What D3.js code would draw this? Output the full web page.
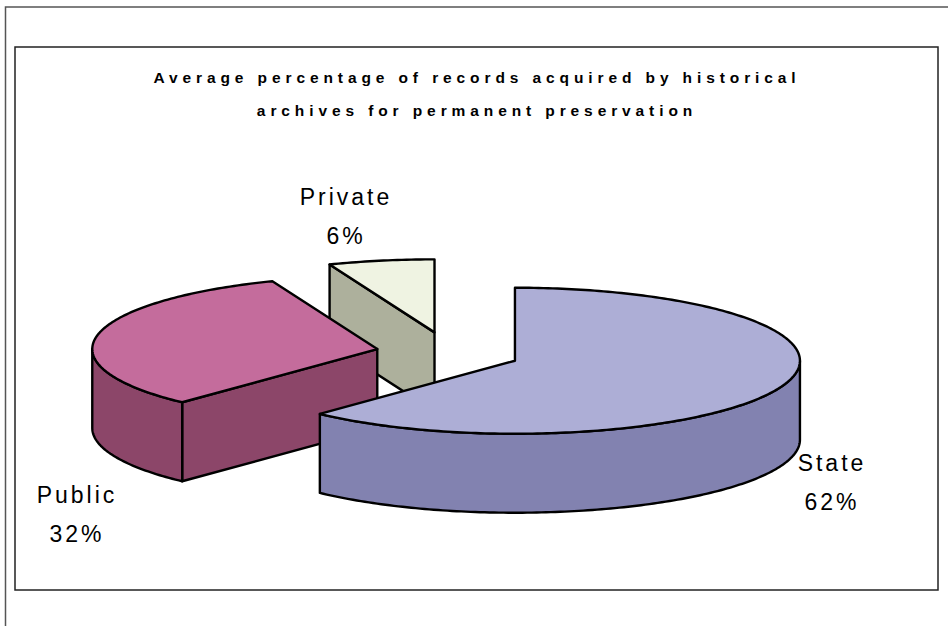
<!DOCTYPE html>
<html>
<head>
<meta charset="utf-8">
<style>
  html, body { margin: 0; padding: 0; background: #fff; }
  svg { display: block; }
  text { font-family: "Liberation Sans", Arial, sans-serif; fill: #000; }
  .chart-title { font-size: 15.5px; font-weight: bold; letter-spacing: 4.9px; text-anchor: middle; }
  .slice-label { font-size: 23px; letter-spacing: 3px; text-anchor: middle; }
</style>
</head>
<body>
<div id="chart"></div>
<script src="https://cdn.jsdelivr.net/npm/d3@7"></script>
<script>
const categories = ["State", "Public", "Private"];
const values = [62, 32, 6];
const titleLines = [
    "Average percentage of records acquired by historical",
    "archives for permanent preservation"
];
const topColors = ["#adaed6", "#c46c9c", "#eff3e2"];
const sideColors = ["#8282b0", "#8c4669", "#adb09c"];

const width = 948, height = 626;
const cx = 448, cy = 353;
const rx = 285, ry = 73;
const depth = 79;
const explodeX = 72, explodeY = 21;

const svg = d3.select("#chart")
    .append("svg")
    .attr("width", width)
    .attr("height", height)
    .attr("viewBox", `0 0 ${width} ${height}`);

// frames: the outer one is cut off by the page on two sides
svg.append("path")
    .attr("d", "M5.5,626V7H948")
    .attr("fill", "none")
    .attr("stroke", "#555")
    .attr("stroke-width", 1.5);
svg.append("rect")
    .attr("x", 15)
    .attr("y", 47)
    .attr("width", 923)
    .attr("height", 543)
    .attr("fill", "#fff")
    .attr("stroke", "#222")
    .attr("stroke-width", 1.5);

svg.selectAll(".chart-title")
    .data(titleLines)
    .enter()
    .append("text")
    .attr("class", "chart-title")
    .attr("x", 477)
    .attr("y", (d, i) => 83 + i * 33)
    .text(d => d);

const pie = d3.pie().sort(null);
const slices = pie(values).map((d, i) => {
    const mid = (d.startAngle + d.endAngle) / 2;
    return {
        ...d,
        index: i,
        ox: cx + explodeX * Math.sin(mid),
        oy: cy - explodeY * Math.cos(mid)
    };
});

const pt = (s, a, dy = 0) => [s.ox + rx * Math.sin(a), s.oy - ry * Math.cos(a) + dy];
const line = d3.line();

function rim(s, a0, a1, dy = 0) {
    const n = Math.max(2, Math.ceil(Math.abs(a1 - a0) * 60));
    return d3.range(n + 1).map(k => pt(s, a0 + (a1 - a0) * k / n, dy));
}

function drawSlice(s) {
    const g = svg.append("g")
        .attr("stroke", "#000")
        .attr("stroke-width", 2.4)
        .attr("stroke-linejoin", "round");
    const side = sideColors[s.index];

    // the cut face along the start radius looks at the viewer on the left half
    if (Math.sin(s.startAngle) < 0) {
        const p = pt(s, s.startAngle), o = [s.ox, s.oy];
        g.append("path")
            .attr("d", line([o, p, [p[0], p[1] + depth], [o[0], o[1] + depth]]) + "Z")
            .attr("fill", side);
    }

    // outer wall on the front half of the rim
    const a0 = Math.max(s.startAngle, Math.PI / 2);
    const a1 = Math.min(s.endAngle, 3 * Math.PI / 2);
    if (a1 > a0) {
        g.append("path")
            .attr("d", line([...rim(s, a0, a1), ...rim(s, a1, a0, depth)]) + "Z")
            .attr("fill", side);
    }

    g.append("path")
        .attr("d", line([[s.ox, s.oy], ...rim(s, s.startAngle, s.endAngle)]) + "Z")
        .attr("fill", topColors[s.index]);
}

// back to front
drawSlice(slices[2]);
drawSlice(slices[1]);
drawSlice(slices[0]);

const labelPos = [[832, 471], [77, 503], [346, 205]];
slices.forEach((s, i) => {
    const t = svg.append("text")
        .attr("class", "slice-label")
        .attr("x", labelPos[i][0])
        .attr("y", labelPos[i][1]);
    t.append("tspan").text(categories[i]);
    t.append("tspan")
        .attr("x", labelPos[i][0])
        .attr("dy", 38.5)
        .text(`${Math.round((s.endAngle - s.startAngle) / (2 * Math.PI) * 100)}%`);
});
</script>
</body>
</html>
